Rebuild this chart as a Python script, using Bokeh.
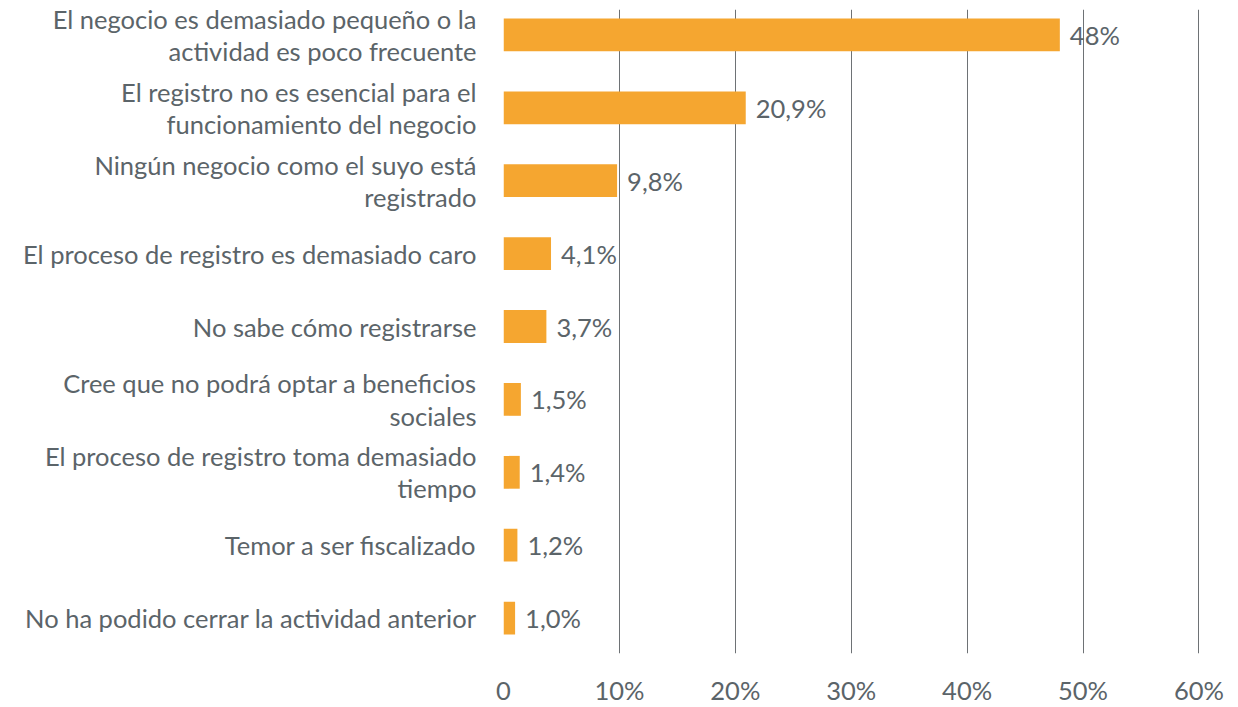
from bokeh.plotting import figure
from bokeh.models import ColumnDataSource, Range1d, FixedTicker
from bokeh.core.properties import value
from bokeh.embed import file_html
from bokeh.resources import INLINE

categories = [
    "El negocio es demasiado pequeño o la\nactividad es poco frecuente",
    "El registro no es esencial para el\nfuncionamiento del negocio",
    "Ningún negocio como el suyo está\nregistrado",
    "El proceso de registro es demasiado caro",
    "No sabe cómo registrarse",
    "Cree que no podrá optar a beneficios\nsociales",
    "El proceso de registro toma demasiado\ntiempo",
    "Temor a ser fiscalizado",
    "No ha podido cerrar la actividad anterior",
]
values = [48.0, 20.9, 9.8, 4.1, 3.7, 1.5, 1.4, 1.2, 1.0]
value_labels = ["48%", "20,9%", "9,8%", "4,1%", "3,7%", "1,5%", "1,4%", "1,2%", "1,0%"]
x_ticks = [0, 10, 20, 30, 40, 50, 60]
x_tick_labels = ["0", "10%", "20%", "30%", "40%", "50%", "60%"]

FONT = "Lato"
FSIZE = "25.5px"
TEXT_COLOR = "#5b6469"
BAR_COLOR = "#F5A630"
GRID_COLOR = "#6e7275"

n = len(categories)
pos = list(range(n))
src = ColumnDataSource(dict(y=pos, v=values, lab=value_labels))

p = figure(
    width=1238, height=707,
    x_range=Range1d(0, 60.05),
    y_range=Range1d(n - 1 + 0.486, -0.349),
    output_backend="svg", toolbar_location=None,
    min_border_left=503, min_border_right=39,
    min_border_top=9, min_border_bottom=52,
)
p.outline_line_color = None
p.background_fill_color = "white"
p.border_fill_color = "white"

p.hbar(y="y", left=0, right="v", height=0.45, source=src,
       fill_color=BAR_COLOR, line_color=None)
p.text(x="v", y="y", text="lab", source=src, x_offset=10,
       text_baseline="middle", text_align="left",
       text_font=value(FONT), text_font_size=FSIZE, text_color=TEXT_COLOR)

# x axis
p.xaxis.ticker = FixedTicker(ticks=x_ticks)
p.xaxis.major_label_overrides = {t: l for t, l in zip(x_ticks, x_tick_labels)}
p.xaxis.axis_line_color = None
p.xaxis.major_tick_line_color = None
p.xaxis.minor_tick_line_color = None
p.xaxis.major_tick_out = 0
p.xaxis.major_label_standoff = 21
p.xaxis.major_label_text_font = FONT
p.xaxis.major_label_text_font_size = FSIZE
p.xaxis.major_label_text_color = TEXT_COLOR

# y axis
p.yaxis.ticker = FixedTicker(ticks=pos)
p.yaxis.major_label_overrides = {i: c for i, c in zip(pos, categories)}
p.yaxis.axis_line_color = None
p.yaxis.major_tick_line_color = None
p.yaxis.minor_tick_line_color = None
p.yaxis.major_tick_out = 0
p.yaxis.major_label_standoff = 27
p.yaxis.major_label_text_font = FONT
p.yaxis.major_label_text_font_size = FSIZE
p.yaxis.major_label_text_color = TEXT_COLOR
p.yaxis.major_label_text_line_height = 1.08

p.xgrid.grid_line_color = GRID_COLOR
p.xgrid.grid_line_width = 1
p.ygrid.grid_line_color = None

open("out.html", "w").write(file_html(p, INLINE))
